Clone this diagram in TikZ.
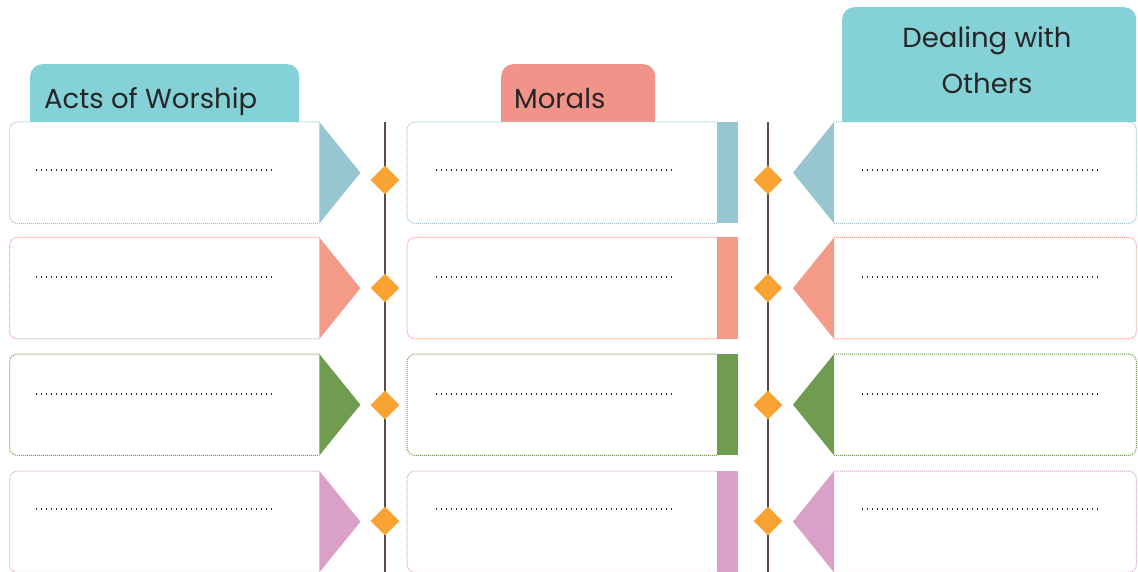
\documentclass[tikz,border=0pt]{standalone}
\usepackage{fontspec}
\setmainfont{Poppins}
\usetikzlibrary{shapes.geometric}
\definecolor{tealhdr}{HTML}{84D1D7}
\definecolor{salmonhdr}{HTML}{F0948A}
\definecolor{rowA}{HTML}{98C6D0}
\definecolor{rowB}{HTML}{F39A88}
\definecolor{rowC}{HTML}{6F9C4E}
\definecolor{rowD}{HTML}{DAA0C8}
\definecolor{spine}{HTML}{5B4B43}
\definecolor{gemc}{HTML}{F8A333}
\definecolor{ink}{HTML}{262626}
\begin{document}
\begin{tikzpicture}[x=1pt,y=-1pt,
  tab/.style={fill=#1, rounded corners=12pt, inner sep=0pt, anchor=north west},
  card/.style={fill=white, inner sep=0pt, anchor=north west, minimum height=101pt},
  cardedge/.style={draw=#1, line width=1pt, dash pattern=on 1pt off 1pt, rounded corners=8pt},
  gem/.style={diamond, fill=gemc, inner sep=0pt, minimum width=29pt, minimum height=29pt},
  writeline/.style={ink, line width=1.1pt, dash pattern=on 1.1pt off 3.9pt},
  hdr/.style={font=\fontsize{27.5}{33}\selectfont, text=ink, inner sep=0pt},
  spineline/.style={spine, line width=2.4pt}]
\useasboundingbox (0,0) rectangle (1138,572);
% header tabs
\node[tab=tealhdr, minimum width=269pt, minimum height=70pt] (h1) at (30,64) {};
\node[tab=salmonhdr, minimum width=154pt, minimum height=70pt] (h2) at (501,64) {};
\node[tab=tealhdr, minimum width=294pt, minimum height=125pt] (h3) at (842,7) {};
\node[hdr, anchor=base west] (t1) at (44,109) {Acts of Worship};
\node[hdr, anchor=base west] (t2) at (514,109) {Morals};
\node[hdr, anchor=base] (t3a) at (987,48) {Dealing with};
\node[hdr, anchor=base] (t3b) at (987,94) {Others};
% spines
\coordinate (s1top) at (385,122);
\coordinate (s1bot) at (385,572);
\coordinate (s2top) at (768,122);
\coordinate (s2bot) at (768,572);
\draw[spineline] (s1top) -- (s1bot);
\draw[spineline] (s2top) -- (s2bot);
% rows
\foreach \i/\top/\col/\dy/\gy in {1/122/rowA/170/180, 2/237.5/rowB/277/288, 3/354/rowC/394/405, 4/471/rowD/509/521}{
  \node[card, minimum width=309.5pt] (L\i) at (9.5,\top) {};
  \node[card, minimum width=310pt] (M\i) at (407,\top) {};
  \node[card, minimum width=302pt] (R\i) at (834,\top) {};
  \draw[cardedge=\col] (L\i.north east) -- (L\i.north west) -- (L\i.south west) -- (L\i.south east);
  \draw[cardedge=\col] (M\i.north east) -- (M\i.north west) -- (M\i.south west) -- (M\i.south east);
  \draw[cardedge=\col] (R\i.north west) -- (R\i.north east) -- (R\i.south east) -- (R\i.south west);
  \fill[\col] (L\i.north east) -- (L\i.south east) -- ([xshift=41pt]L\i.east) -- cycle;
  \fill[\col] (M\i.north east) rectangle ([xshift=21pt]M\i.south east);
  \fill[\col] (R\i.north west) -- (R\i.south west) -- ([xshift=-41pt]R\i.west) -- cycle;
  \coordinate (la\i) at (36,\dy);  \coordinate (lb\i) at (274,\dy);
  \coordinate (ma\i) at (436,\dy); \coordinate (mb\i) at (674,\dy);
  \coordinate (ra\i) at (862,\dy); \coordinate (rb\i) at (1100,\dy);
  \draw[writeline] (la\i) -- (lb\i);
  \draw[writeline] (ma\i) -- (mb\i);
  \draw[writeline] (ra\i) -- (rb\i);
  \node[gem] (g\i) at (385,\gy) {};
  \node[gem] (k\i) at (768,\gy) {};
}
\end{tikzpicture}
\end{document}
